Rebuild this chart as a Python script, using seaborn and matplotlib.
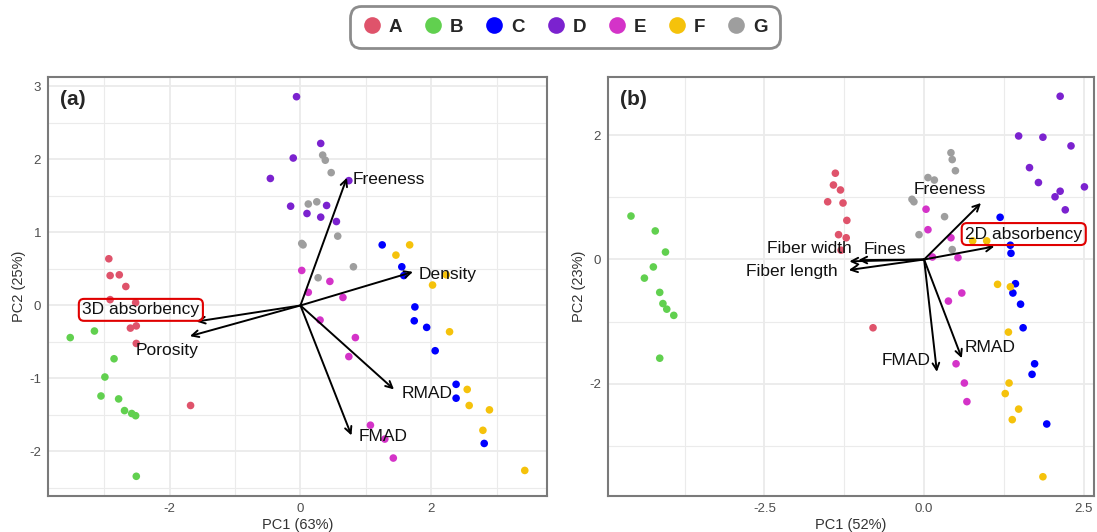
import numpy as np
import pandas as pd
import matplotlib
matplotlib.use("Agg")
import matplotlib.pyplot as plt
from matplotlib.lines import Line2D
from matplotlib.ticker import MultipleLocator, FormatStrFormatter
import seaborn as sns

# ------------ Data: PCA scores, panel (a) ------------
groups = ["A", "B", "C", "D", "E", "F", "G"]
colors = ["#DF536B", "#61D04F", "#0000FF", "#7B22CF", "#D433C8", "#F5C20B", "#9E9E9E"]

a_x = {
    "A": [-2.93, -2.91, -2.77, -2.67, -2.91, -2.52, -2.60, -2.51, -2.51, -1.68],
    "B": [-3.52, -3.15, -2.85, -2.99, -3.05, -2.78, -2.69, -2.58, -2.52, -2.51],
    "C": [1.25, 1.55, 1.58, 1.75, 1.74, 1.93, 2.06, 2.38, 2.38, 2.81],
    "D": [-0.06, 0.31, -0.11, -0.46, -0.15, 0.40, 0.10, 0.31, 0.55, 0.74],
    "E": [0.02, 0.45, 0.12, 0.65, 0.30, 0.84, 0.74, 1.07, 1.29, 1.42],
    "F": [1.67, 1.46, 2.02, 2.23, 2.28, 2.55, 2.58, 2.89, 2.79, 3.43],
    "G": [0.34, 0.38, 0.47, 0.12, 0.25, 0.57, 0.02, 0.04, 0.81, 0.27],
}
a_y = {
    "A": [0.64, 0.41, 0.42, 0.26, 0.08, 0.04, -0.31, -0.28, -0.52, -1.37],
    "B": [-0.44, -0.35, -0.73, -0.98, -1.24, -1.28, -1.44, -1.48, -1.51, -2.34],
    "C": [0.83, 0.53, 0.41, -0.02, -0.21, -0.30, -0.62, -1.08, -1.27, -1.89],
    "D": [2.86, 2.22, 2.02, 1.74, 1.36, 1.37, 1.26, 1.21, 1.15, 1.71],
    "E": [0.48, 0.33, 0.18, 0.11, -0.20, -0.44, -0.70, -1.64, -1.83, -2.09],
    "F": [0.83, 0.69, 0.28, 0.42, -0.36, -1.15, -1.37, -1.43, -1.71, -2.26],
    "G": [2.06, 1.99, 1.82, 1.39, 1.42, 0.95, 0.85, 0.83, 0.53, 0.38],
}

# loadings (arrow tips) and label centres, panel (a)
a_vars = ["Freeness", "Density", "RMAD", "FMAD", "3D absorbency", "Porosity"]
a_tip_x = [0.71, 1.72, 1.43, 0.78, -1.59, -1.69]
a_tip_y = [1.75, 0.46, -1.15, -1.78, -0.22, -0.42]
a_lab_x = [1.35, 2.25, 1.94, 1.27, -2.44, -2.04]
a_lab_y = [1.72, 0.43, -1.20, -1.80, -0.06, -0.62]

# ------------ Data: PCA scores, panel (b) ------------
b_x = {
    "A": [-1.39, -1.42, -1.31, -1.51, -1.27, -1.21, -1.34, -1.22, -1.30, -0.80],
    "B": [-4.59, -4.21, -4.05, -4.24, -4.38, -4.14, -4.09, -4.03, -3.92, -4.14],
    "C": [1.19, 1.35, 1.36, 1.43, 1.39, 1.51, 1.55, 1.73, 1.69, 1.92],
    "D": [2.13, 1.48, 1.86, 2.30, 1.65, 1.79, 2.13, 2.51, 2.05, 2.21],
    "E": [0.03, 0.06, 0.42, 0.13, 0.53, 0.59, 0.38, 0.50, 0.63, 0.67],
    "F": [0.76, 0.98, 1.15, 1.35, 1.32, 1.33, 1.27, 1.48, 1.38, 1.86],
    "G": [0.42, 0.44, 0.49, 0.06, 0.16, -0.19, -0.16, 0.32, -0.08, 0.44],
}
b_y = {
    "A": [1.39, 1.20, 1.12, 0.93, 0.91, 0.63, 0.40, 0.35, 0.15, -1.10],
    "B": [0.70, 0.46, 0.12, -0.12, -0.30, -0.53, -0.71, -0.80, -0.90, -1.59],
    "C": [0.68, 0.23, 0.10, -0.39, -0.54, -0.72, -1.10, -1.68, -1.85, -2.65],
    "D": [2.63, 1.99, 1.97, 1.83, 1.48, 1.24, 1.10, 1.17, 1.01, 0.80],
    "E": [0.81, 0.48, 0.35, 0.04, 0.03, -0.54, -0.67, -1.68, -1.99, -2.29],
    "F": [0.30, 0.30, -0.40, -0.44, -1.17, -1.99, -2.16, -2.41, -2.58, -3.50],
    "G": [1.72, 1.61, 1.43, 1.32, 1.28, 0.97, 0.93, 0.69, 0.40, 0.16],
}

b_vars = ["Freeness", "2D absorbency", "Fines", "Fiber width", "Fiber length", "FMAD", "RMAD"]
b_tip_x = [0.89, 1.10, -1.03, -1.17, -1.18, 0.20, 0.59]
b_tip_y = [0.91, 0.21, -0.01, -0.03, -0.17, -1.81, -1.59]
b_lab_x = [0.40, 1.56, -0.61, -1.79, -2.07, -0.28, 1.04]
b_lab_y = [1.12, 0.41, 0.16, 0.18, -0.20, -1.62, -1.42]

boxed = {"3D absorbency", "2D absorbency"}


def to_frame(xs, ys):
    rows = []
    for g in groups:
        for x, y in zip(xs[g], ys[g]):
            rows.append({"PC1": x, "PC2": y, "group": g})
    return pd.DataFrame(rows)


df_a = to_frame(a_x, a_y)
df_b = to_frame(b_x, b_y)
palette = dict(zip(groups, colors))

sns.set_style("white")
plt.rcParams["font.family"] = ["Liberation Sans", "DejaVu Sans"]
plt.rcParams["axes.unicode_minus"] = False

fig = plt.figure(figsize=(10.97, 5.32), dpi=100)
ax_a = fig.add_axes([48 / 1097, 36 / 532, 499 / 1097, 419 / 532])
ax_b = fig.add_axes([608 / 1097, 36 / 532, 486 / 1097, 419 / 532])


def style_axes(ax, xmaj, ymaj, xlim, ylim, xlabel, ylabel, tag):
    ax.set_xlim(*xlim)
    ax.set_ylim(*ylim)
    ax.xaxis.set_major_locator(MultipleLocator(xmaj))
    ax.xaxis.set_minor_locator(MultipleLocator(xmaj / 2))
    ax.yaxis.set_major_locator(MultipleLocator(ymaj))
    ax.yaxis.set_minor_locator(MultipleLocator(ymaj / 2))
    ax.grid(True, which="major", color="#EBEBEB", lw=1.3, zorder=0)
    ax.grid(True, which="minor", color="#EBEBEB", lw=0.8, zorder=0)
    ax.set_axisbelow(True)
    for sp in ax.spines.values():
        sp.set_color("#7A7A7A")
        sp.set_linewidth(1.5)
    ax.tick_params(which="major", length=3, width=0.8, color="#555555",
                   labelsize=9.5, labelcolor="#4D4D4D", pad=2)
    ax.tick_params(which="minor", length=0)
    ax.set_xlabel(xlabel, fontsize=10.5, color="#333333", labelpad=2)
    ax.set_ylabel(ylabel, fontsize=10.5, color="#333333", labelpad=2)
    ax.text(0.025, 0.97, tag, transform=ax.transAxes, fontsize=15,
            fontweight="bold", ha="left", va="top")


def draw_panel(ax, df, names, tx, ty, lx, ly):
    sns.scatterplot(data=df, x="PC1", y="PC2", hue="group", palette=palette,
                    s=30, linewidth=0, ax=ax, legend=False, zorder=3)
    for name, x1, y1, x2, y2 in zip(names, tx, ty, lx, ly):
        ax.annotate("", xy=(x1, y1), xytext=(0, 0),
                    arrowprops=dict(arrowstyle="->", color="black", lw=1.4,
                                    shrinkA=0, shrinkB=0,
                                    mutation_scale=12), zorder=4)
        kw = {}
        if name in boxed:
            kw["bbox"] = dict(boxstyle="round,pad=0.2,rounding_size=0.3",
                              fc="none", ec="#E00000", lw=1.5)
        ax.text(x2, y2, name, fontsize=12.5, ha="center", va="center",
                color="#111111", zorder=5, **kw)


draw_panel(ax_a, df_a, a_vars, a_tip_x, a_tip_y, a_lab_x, a_lab_y)
style_axes(ax_a, 2, 1, (-3.86, 3.77), (-2.61, 3.13), "PC1 (63%)", "PC2 (25%)", "(a)")

draw_panel(ax_b, df_b, b_vars, b_tip_x, b_tip_y, b_lab_x, b_lab_y)
style_axes(ax_b, 2.5, 2, (-4.95, 2.66), (-3.81, 2.94), "PC1 (52%)", "PC2 (23%)", "(b)")
ax_b.xaxis.set_major_formatter(FormatStrFormatter("%.1f"))

# ------------ Legend ------------
handles = [Line2D([0], [0], marker="o", color="none", markerfacecolor=c,
                  markeredgecolor="none", markersize=12) for c in colors]
leg = fig.legend(handles, groups, loc="center", bbox_to_anchor=(565 / 1097, 1 - 27 / 532),
                 ncol=7, frameon=True, fancybox=True, handlelength=1.0,
                 handletextpad=0.4, columnspacing=1.15, borderpad=0.45,
                 prop={"weight": "bold", "size": 13.5})
leg.get_frame().set_edgecolor("#707070")
leg.get_frame().set_linewidth(2)
leg.get_frame().set_boxstyle("round,pad=0.2,rounding_size=0.6")

fig.savefig("out.png", dpi=100)
